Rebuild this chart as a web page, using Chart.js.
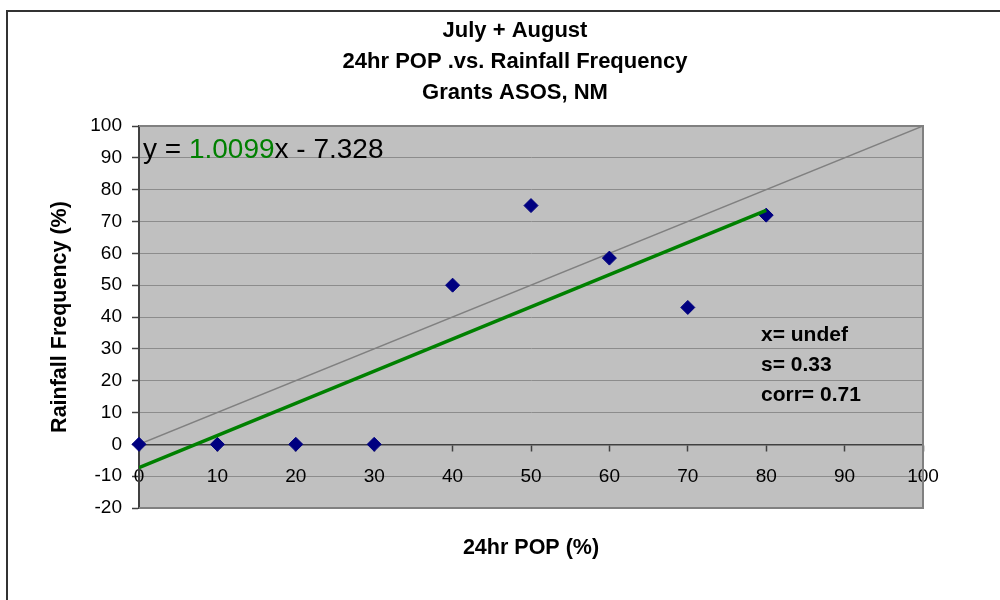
<!DOCTYPE html>
<html>
<head>
<meta charset="utf-8">
<script src="https://cdn.jsdelivr.net/npm/chart.js@4"></script>
<style>
  html, body { margin: 0; padding: 0; background: #fff; }
</style>
</head>
<body>
<canvas id="myChart" width="1000" height="600"></canvas>
<script>
// data
const popX = [0, 10, 20, 30, 40, 50, 60, 70, 80];
const rainY = [0, 0, 0, 0, 50, 75, 58.5, 43, 72];
const trendX = [0, 80];
const trendY = [-7.3, 73.5];
const refX = [0, 100];
const refY = [0, 100];
const titleLines = ['July + August', '24hr POP .vs. Rainfall Frequency', 'Grants ASOS, NM'];
const xTitle = '24hr POP (%)';
const yTitle = 'Rainfall Frequency (%)';
const eqParts = ['y = ', '1.0099', 'x - 7.328'];
const statLines = ['x= undef', 's= 0.33', 'corr= 0.71'];

const FONT = '"Liberation Sans", Arial, sans-serif';
const ctx1 = document.getElementById('myChart').getContext('2d');

function toPoints(xs, ys) {
  return xs.map((x, i) => ({ x: x, y: ys[i] }));
}

const chartDecor = {
  id: 'chartDecor',
  beforeDraw(chart) {
    const { ctx, chartArea: a } = chart;
    ctx.save();
    ctx.fillStyle = '#ffffff';
    ctx.fillRect(0, 0, chart.width, chart.height);
    ctx.fillStyle = '#c0c0c0';
    ctx.fillRect(a.left, a.top, a.right - a.left, a.bottom - a.top);
    ctx.restore();
  },
  beforeDatasetsDraw(chart) {
    const { ctx, chartArea: a } = chart;
    ctx.save();
    ctx.strokeStyle = '#808080';
    ctx.lineWidth = 2;
    ctx.beginPath();
    ctx.moveTo(a.left, a.top);
    ctx.lineTo(a.right, a.top);
    ctx.lineTo(a.right, a.bottom);
    ctx.lineTo(a.left, a.bottom);
    ctx.stroke();
    ctx.restore();
  },
  afterDraw(chart) {
    const ctx = chart.ctx;
    ctx.save();
    // equation of the trend line
    ctx.font = '28px ' + FONT;
    ctx.textBaseline = 'alphabetic';
    ctx.textAlign = 'left';
    let x = 143;
    const colors = ['#000000', '#008000', '#000000'];
    eqParts.forEach((p, i) => {
      ctx.fillStyle = colors[i];
      ctx.fillText(p, x, 158);
      x += ctx.measureText(p).width;
    });
    // stats box
    ctx.font = 'bold 21px ' + FONT;
    ctx.fillStyle = '#000000';
    statLines.forEach((s, i) => {
      ctx.fillText(s, 761, 341 + i * 30);
    });
    // outer frame
    ctx.strokeStyle = '#333333';
    ctx.lineWidth = 2;
    ctx.strokeRect(7, 11, 1010, 610);
    ctx.restore();
  }
};

new Chart(ctx1, {
  type: 'scatter',
  data: {
    datasets: [
      {
        type: 'line',
        label: 'trend',
        data: toPoints(trendX, trendY),
        borderColor: '#008000',
        borderWidth: 3.5,
        pointRadius: 0,
        fill: false
      },
      {
        label: 'Rainfall Frequency',
        data: toPoints(popX, rainY),
        pointStyle: 'rectRot',
        pointRadius: 7,
        backgroundColor: '#000080',
        borderColor: '#000080',
        borderWidth: 1,
        clip: false
      },
      {
        type: 'line',
        label: 'reference',
        data: toPoints(refX, refY),
        borderColor: '#808080',
        borderWidth: 1.5,
        pointRadius: 0,
        fill: false
      }
    ]
  },
  options: {
    responsive: false,
    animation: false,
    layout: {
      padding: { left: 30, right: 0, top: 0, bottom: 0 }
    },
    plugins: {
      legend: { display: false },
      tooltip: { enabled: false },
      title: {
        display: true,
        text: titleLines,
        color: '#000000',
        font: { family: FONT, size: 22, weight: 'bold', lineHeight: '31px' },
        padding: { top: 15, bottom: 18 }
      },
      subtitle: {
        display: true,
        fullSize: false,
        position: 'bottom',
        text: xTitle,
        color: '#000000',
        font: { family: FONT, size: 21.5, weight: 'bold', lineHeight: '26px' },
        padding: { top: 27, bottom: 39 }
      }
    },
    scales: {
      x: {
        type: 'linear',
        min: 0,
        max: 100,
        position: { y: 0 },
        ticks: {
          stepSize: 10,
          color: '#000000',
          font: { family: FONT, size: 19 },
          padding: 15,
          maxRotation: 0
        },
        grid: {
          drawOnChartArea: false,
          drawTicks: true,
          tickLength: 6,
          tickColor: '#404040',
          tickWidth: 1.5
        },
        border: { display: true, color: '#404040', width: 1.5 }
      },
      y: {
        min: -20,
        max: 100,
        ticks: {
          stepSize: 10,
          color: '#000000',
          font: { family: FONT, size: 19 },
          padding: 10
        },
        grid: {
          color: '#8c8c8c',
          lineWidth: 1,
          drawTicks: true,
          tickLength: 7,
          tickColor: '#404040',
          tickWidth: 1.5
        },
        border: { display: true, color: '#404040', width: 2 },
        title: {
          display: true,
          text: yTitle,
          color: '#000000',
          font: { family: FONT, size: 21.5, weight: 'bold' },
          padding: { top: 17, bottom: 0 }
        },
        afterFit(scale) {
          scale.width = 109;
        }
      },
      // empty right axis that only reserves the white margin on the right
      yRight: {
        position: 'right',
        display: true,
        ticks: { display: false },
        grid: { display: false, drawTicks: false },
        border: { display: false },
        afterFit(scale) {
          scale.width = 77;
        }
      }
    }
  },
  plugins: [chartDecor]
});
</script>
</body>
</html>
